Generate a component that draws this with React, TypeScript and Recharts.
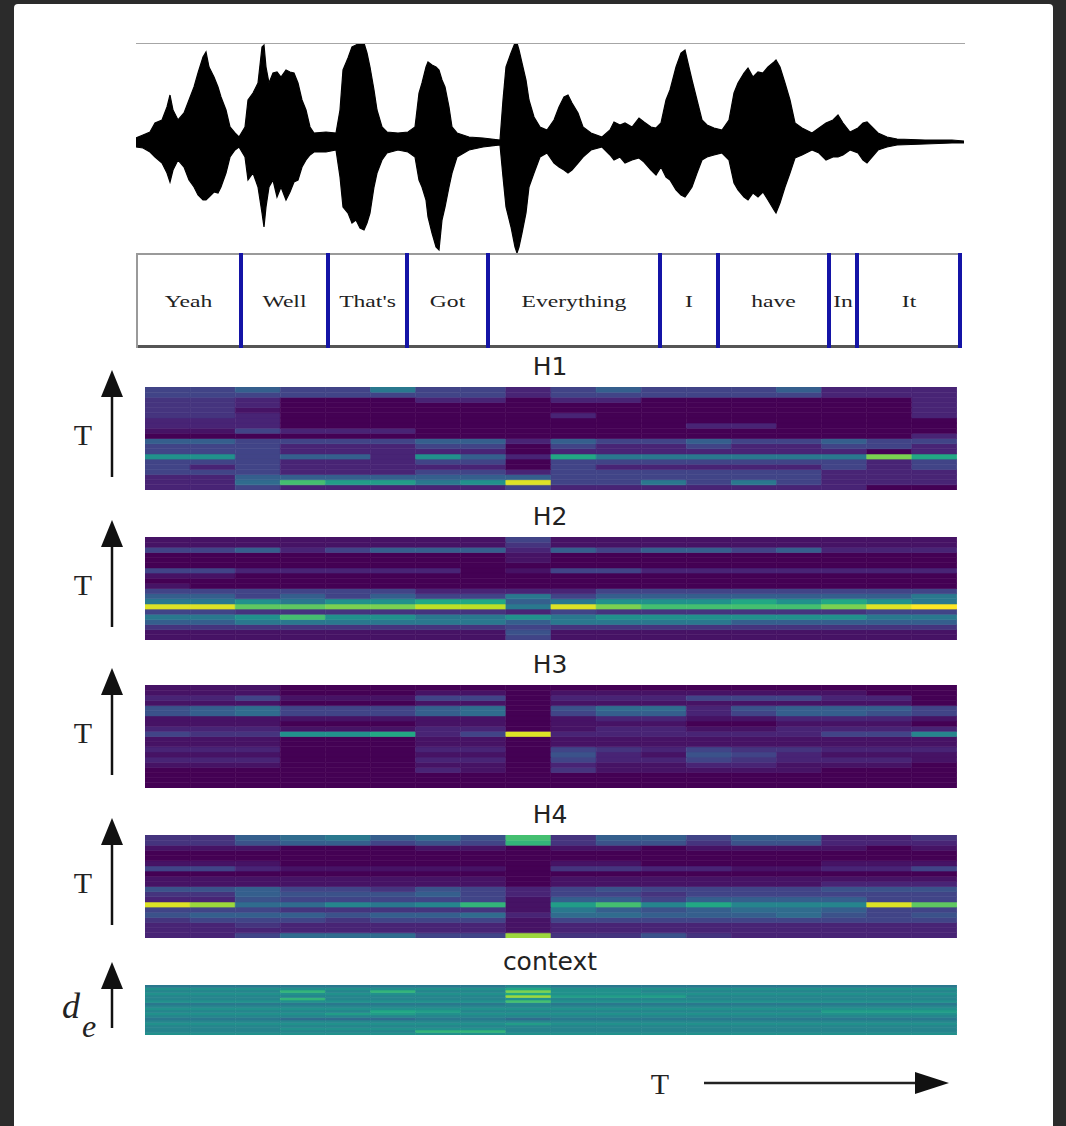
import React from 'react'
import { AreaChart, Area, BarChart, Bar, Cell, XAxis, YAxis, ReferenceLine } from 'recharts'

// waveform envelope: time (px along the trace), upper / lower amplitude
const waveT = [0, 7, 14, 19, 26, 31, 34, 37, 42, 48, 53, 58, 62, 67, 70, 73, 78, 82, 85, 90, 94, 99, 103,
  109, 112, 117, 122, 126, 128, 130, 133, 137, 141, 145, 150, 154, 158, 162, 166, 170, 174, 178, 190, 200,
  204, 207, 212, 216, 220, 224, 228, 231, 234, 238, 241, 246, 251, 262, 272, 279,
  283, 286, 290, 292, 296, 300, 303, 306, 309, 313, 316, 321, 333, 347, 364,
  367, 370, 375, 379, 381, 383, 386, 390, 393, 398, 404, 411, 418, 423, 428, 432, 436, 442, 447, 455, 466,
  474, 478, 484, 489, 496, 503, 508, 515, 520, 525,
  530, 534, 540, 545, 549, 552, 556, 561, 566, 571, 578, 586, 593,
  598, 602, 608, 612, 617, 622, 627, 632, 638, 640, 644, 649, 654, 659, 666, 676, 683,
  690, 697, 702, 707, 714, 722, 727, 731, 736, 742, 751, 761, 789, 816, 828]
const waveHi = [4, 7, 10, 19, 22, 35, 47, 32, 22, 29, 42, 55, 69, 85, 90, 75, 65, 55, 45, 32, 15, 9, 5,
  15, 42, 49, 59, 95, 97, 75, 59, 69, 70, 65, 72, 70, 69, 59, 42, 32, 15, 9, 10, 9,
  32, 72, 84, 95, 97, 99, 99, 89, 75, 52, 32, 15, 10, 9, 10, 15,
  49, 59, 75, 80, 77, 75, 72, 62, 55, 35, 15, 9, 5, 4, 2,
  42, 75, 89, 99, 99, 92, 79, 62, 42, 25, 15, 12, 22, 35, 45, 47, 39, 29, 15, 9, 5,
  12, 20, 17, 19, 15, 24, 20, 15, 14, 19,
  42, 52, 75, 89, 92, 79, 62, 42, 22, 17, 14, 12, 22,
  49, 59, 69, 74, 65, 70, 69, 75, 80, 82, 75, 59, 42, 19, 14, 9, 14,
  19, 22, 27, 19, 10, 14, 19, 20, 15, 9, 5, 3, 2, 2, 1]
const waveLo = [-5, -6, -10, -15, -21, -31, -40, -28, -18, -25, -38, -45, -53, -58, -58, -55, -50, -51, -45, -31, -15, -8, -5,
  -15, -38, -31, -45, -71, -85, -65, -45, -38, -55, -45, -58, -50, -40, -38, -25, -18, -13, -10, -10, -8,
  -35, -65, -71, -81, -78, -86, -88, -81, -71, -45, -31, -18, -11, -8, -10, -15,
  -38, -45, -58, -75, -91, -105, -108, -78, -65, -45, -31, -15, -8, -5, -3,
  -35, -65, -85, -105, -111, -105, -91, -71, -45, -31, -15, -11, -21, -25, -28, -31, -28, -21, -15, -8, -5,
  -13, -18, -15, -21, -18, -16, -20, -28, -33, -25,
  -35, -38, -48, -53, -55, -51, -45, -31, -18, -15, -13, -11, -18,
  -41, -48, -55, -58, -51, -55, -50, -58, -68, -71, -61, -45, -31, -16, -13, -8, -11,
  -18, -15, -15, -13, -8, -11, -18, -21, -15, -8, -5, -3, -2, -1, -1]

// word segmentation (durations in the same time units)
const words = ['Yeah', 'Well', "That's", 'Got', 'Everything', 'I', 'have', 'In', 'It']
const wordDur = [105, 87, 79, 81, 172, 58, 111, 28, 104]

// attention maps, rows top -> bottom, 18 time steps, values 0..10
const H1 = [
  [2, 2, 3, 2, 2, 4, 2, 2, 1, 2, 3, 2, 2, 2, 3, 1, 1, 1],
  [2, 2, 2, 2, 2, 2, 2, 2, 1, 2, 2, 2, 2, 2, 2, 1, 1, 1],
  [1.5, 1.5, 1, 0, 0, 0, 1, 1, 0, 1, 1, 0, 0, 0, 0, 0, 0, 1],
  [1.5, 1.5, 1, 0, 0, 0, 0, 0, 0, 0, 0, 0, 0, 0, 0, 0, 0, 1],
  [1.5, 1.5, 0.5, 0, 0, 0, 0, 0, 0, 0, 0, 0, 0, 0, 0, 0, 0, 1],
  [1.5, 1.5, 1, 0, 0, 0, 0, 0, 0, 1, 0, 0, 0, 0, 0, 0, 0, 1],
  [1, 1, 1, 0, 0, 0, 0, 0, 0, 0, 0, 0, 0, 0, 0, 0, 0, 0],
  [1, 1, 1, 0, 0, 0, 0, 0, 0, 0, 0, 0, 1, 1, 0, 0, 0, 0],
  [0.5, 0.5, 2, 1, 1, 1, 0, 0, 0, 0, 0, 0, 0, 0, 0, 0, 0, 0],
  [0, 0, 0, 0, 0, 0, 0, 0, 0, 0, 0, 0, 0, 0, 0, 0, 0, 1],
  [3, 3, 2, 2, 2, 2, 3, 3, 1, 3, 2, 2, 3, 2, 2, 3, 2, 2],
  [2, 2, 2, 1, 1, 1, 2, 2, 0, 2, 1, 1, 2, 1, 1, 2, 2, 1],
  [2, 2, 2, 1, 1, 1, 1, 1, 0, 1, 1, 1, 1, 1, 1, 1, 0, 1],
  [5, 5, 2, 3, 3, 1, 5, 3, 1, 6, 4, 4, 4, 4, 4, 4, 8, 6],
  [2, 2, 2, 1, 1, 1, 2, 2, 0, 2, 2, 2, 2, 2, 2, 2, 1, 2],
  [2, 1, 2, 1, 1, 1, 1, 1, 0, 2, 1, 1, 1, 1, 1, 2, 1, 2],
  [2, 2, 2, 1, 1, 1, 2, 2, 1, 2, 2, 2, 2, 2, 2, 1, 1, 1],
  [1, 1, 3, 3, 3, 3, 3, 3, 3, 2, 2, 2, 2, 2, 2, 1, 1, 1],
  [1, 1, 3.5, 7, 5.5, 5.5, 4, 5, 9.5, 2, 2, 4, 2, 4, 2, 1, 1, 1],
  [1, 1, 2, 1, 1, 1, 1, 1, 2, 1, 1, 1, 1, 1, 1, 1, 0, 0],
]

const H2 = [
  [0.5, 0.5, 0.5, 0.5, 0.5, 0.5, 0.5, 0.5, 2, 0.5, 0.5, 0.5, 0.5, 0.5, 0.5, 0.5, 0.5, 0.5],
  [0.5, 0.5, 0.5, 0.5, 0.5, 0.5, 0.5, 0.5, 1.5, 0.5, 0.5, 0.5, 0.5, 0.5, 0.5, 0.5, 0.5, 0.5],
  [2, 2, 3, 1, 2, 3, 3, 3, 1, 3, 2, 3, 3, 2, 3, 1, 1, 1],
  [0, 0, 0, 0, 0, 0, 0, 0, 0.5, 0, 0, 0, 0, 0, 0, 0, 0, 0],
  [0, 0, 0, 0, 0, 0, 0, 0, 0.5, 0, 0, 0, 0, 0, 0, 0, 0, 0],
  [0, 0, 0, 0, 0, 0, 0, 0, 0, 0, 0, 0, 0, 0, 0, 0, 0, 0],
  [2, 2, 1, 1, 1, 1, 1, 0, 0.5, 2, 2, 1, 1, 1, 1, 1, 1, 1],
  [0.5, 0.5, 0, 0, 0, 0, 0, 0, 0, 0, 0, 0, 0, 0, 0, 0, 0, 0],
  [0, 0, 0, 0, 0, 0, 0, 0, 0, 0, 0, 0, 0, 0, 0, 0, 0, 0],
  [0.5, 0, 0, 0, 0, 0, 0, 0, 0, 0, 0, 0, 0, 0, 0, 0, 0, 0],
  [2, 2, 2, 2, 2, 2, 1, 1, 1, 1, 2, 2, 2, 2, 2, 2, 2, 2],
  [3, 3, 2, 3, 2, 3, 2, 2, 4, 2, 3, 3, 3, 3, 3, 3, 3, 4],
  [4, 4, 5, 4, 5, 5, 6, 6, 3, 4, 5, 5, 5, 6, 5, 6, 5, 4],
  [9.5, 9.5, 7.5, 7.5, 8, 8, 9, 9, 4, 9.5, 8, 7, 7, 7, 7, 8, 9.5, 10],
  [2, 2, 1.5, 1.5, 1.5, 1.5, 1.5, 1.5, 1, 2, 1.5, 1.5, 1.5, 1.5, 1.5, 1.5, 2, 2],
  [4, 4, 5, 7, 5, 5, 4, 4, 5, 4, 5, 5, 5, 5, 5, 5, 4, 4],
  [3, 3, 4, 4, 4, 4, 4, 4, 3, 4, 4, 4, 4, 3, 3, 3, 3, 3],
  [1.5, 1.5, 1.5, 1.5, 1.5, 1.5, 1.5, 1.5, 2, 1.5, 1.5, 1.5, 1.5, 1.5, 1.5, 1.5, 1.5, 1.5],
  [0.5, 0.5, 0.5, 0.5, 0.5, 0.5, 0.5, 0.5, 2.5, 0.5, 0.5, 0.5, 0.5, 0.5, 0.5, 0.5, 0.5, 0.5],
  [0.5, 0.5, 0.5, 0.5, 0.5, 0.5, 0.5, 0.5, 2, 0.5, 0.5, 0.5, 0.5, 0.5, 0.5, 0.5, 0.5, 0.5],
]

const H3 = [
  [0.5, 0.5, 0.5, 0, 0, 0, 0, 0, 0, 0, 0, 0, 0, 0, 0, 0, 0, 0],
  [0.5, 0.5, 0.5, 0, 0, 0, 0.5, 0.5, 0, 0.5, 0.5, 0.5, 0.5, 0.5, 0.5, 0.5, 0, 0],
  [1, 1, 2, 0.5, 0.5, 0.5, 2, 2, 0, 1, 1, 1, 2, 2, 2, 1, 1, 0],
  [0.5, 0.5, 0.5, 0, 0, 0, 0.5, 0.5, 0, 0.5, 0.5, 0.5, 0.5, 0.5, 0.5, 0.5, 0.5, 0],
  [2.5, 3, 3.5, 2, 2, 2, 3, 3.5, 0, 2.5, 3.5, 3.5, 1, 2.5, 3, 3, 3, 2],
  [2.5, 3, 3.5, 2, 2, 2, 3, 3.5, 0, 2, 3, 3, 1, 2, 3, 3, 2.5, 2],
  [0.5, 0.5, 0.5, 0.5, 0.5, 0.5, 0.5, 0.5, 0, 0.5, 1, 1, 0.5, 0.5, 1, 1, 1, 0.5],
  [0.5, 0.5, 0.5, 0, 0, 0, 0.5, 0.5, 0, 0.5, 0.5, 0.5, 0, 0, 0.5, 0.5, 0.5, 0],
  [1, 1, 1, 0.5, 0.5, 0.5, 1, 1, 0, 0.5, 1, 1, 0.5, 0.5, 1, 1, 1, 1],
  [2, 1.5, 1.5, 5, 5, 6, 1, 2, 9.5, 1, 1, 1, 1, 1, 1, 2, 2, 4.5],
  [0.5, 0.5, 0.5, 0, 0, 0, 0.5, 0.5, 0, 0.5, 0.5, 0.5, 0.5, 0.5, 0.5, 0.5, 0.5, 0.5],
  [0.5, 0.5, 0.5, 0, 0, 0, 0.5, 0.5, 0, 0.5, 0.5, 0.5, 0.5, 0.5, 0.5, 0.5, 0.5, 0.5],
  [1, 1, 1, 0, 0, 0, 1, 1, 0, 2, 1.5, 1, 2, 1.5, 1.5, 1, 1, 1],
  [0.5, 0.5, 0.5, 0, 0, 0, 0.5, 0.5, 0, 2.5, 1, 0.5, 2.5, 2, 1, 0.5, 0.5, 0.5],
  [1, 1, 1, 0, 0, 0, 1, 1, 0, 2, 1, 1, 2, 1.5, 1, 1, 1, 0.5],
  [0.5, 0.5, 0.5, 0, 0, 0, 0.5, 0.5, 0, 1, 0.5, 0.5, 1, 1, 0.5, 0.5, 0.5, 0],
  [0, 0, 0, 0, 0, 0, 1, 0.5, 0, 1.5, 0.5, 0.5, 0.5, 0.5, 0.5, 0, 0, 0],
  [0, 0, 0, 0, 0, 0, 0, 0, 0, 0, 0, 0, 0, 0, 0, 0, 0, 0],
  [0, 0, 0, 0, 0, 0, 0, 0, 0, 0, 0, 0, 0, 0, 0, 0, 0, 0],
  [0, 0, 0, 0, 0, 0, 0, 0, 0, 0, 0, 0, 0, 0, 0, 0, 0, 0],
]

const H4 = [
  [1.5, 1.5, 3, 3.5, 4, 3, 3.5, 2.5, 7, 1.5, 3, 3, 2, 3, 3, 1, 1, 1.5],
  [1.5, 1.5, 2.5, 3, 3, 2, 2.5, 2, 6.5, 1.5, 2.5, 2.5, 1.5, 2.5, 2.5, 1, 1, 1],
  [0.5, 0.5, 0.5, 0, 0, 0, 0.5, 0.5, 0, 0.5, 0.5, 0, 0.5, 0.5, 0.5, 0.5, 0, 0.5],
  [0, 0, 0, 0, 0, 0, 0, 0, 0, 0, 0, 0, 0, 0, 0, 0, 0, 0],
  [0, 0, 0, 0, 0, 0, 0, 0, 0, 0, 0, 0, 0, 0, 0, 0, 0, 0],
  [0.5, 0.5, 0.5, 0, 0, 0, 0, 0, 0, 0.5, 0.5, 0, 0, 0, 0, 0.5, 0.5, 0.5],
  [2, 2, 1, 0.5, 0.5, 0.5, 0.5, 0.5, 0, 1.5, 1.5, 1, 1, 0.5, 0.5, 1, 1, 2],
  [0, 0, 0, 0, 0, 0, 0, 0, 0, 0, 0, 0, 0, 0, 0, 0, 0, 0],
  [0.5, 0.5, 0.5, 0.5, 0.5, 0.5, 0.5, 0.5, 0, 0.5, 0.5, 0.5, 0.5, 0.5, 0.5, 0.5, 0.5, 0.5],
  [0.5, 0.5, 0.5, 0.5, 0.5, 0.5, 0.5, 0.5, 0, 0.5, 0.5, 0.5, 0.5, 0.5, 0.5, 1, 1, 1],
  [2.5, 2.5, 3, 2, 2, 1.5, 2.5, 2, 1, 2, 2.5, 2, 2, 2, 2, 2.5, 2.5, 2.5],
  [1.5, 1.5, 3, 2.5, 2.5, 2.5, 3, 2, 1, 2, 2, 1.5, 2, 2, 2, 2, 2, 2],
  [1, 1, 2.5, 2, 2, 2, 2, 2, 0.5, 3, 3, 2, 3, 3, 3, 3, 2, 2],
  [9.5, 8.5, 3.5, 3.5, 4.5, 4, 4.5, 6.5, 0.5, 5.5, 7, 4.5, 6, 4.5, 4.5, 4.5, 9.5, 7.5],
  [2, 2, 2, 1.5, 1.5, 1.5, 1.5, 1.5, 0.5, 4, 3, 2.5, 3, 3.5, 3.5, 3, 2, 2],
  [2.5, 3, 3, 3, 2.5, 3, 3, 3.5, 1, 3.5, 3.5, 3, 3, 3, 3.5, 2.5, 2, 2.5],
  [1.5, 2, 2, 2, 1.5, 2, 2, 2, 0.5, 2, 2, 2, 2, 2, 2, 2, 2, 2],
  [1, 1, 1.5, 1, 1, 1, 1, 1, 0.5, 1, 1, 1, 1, 1, 1, 1, 1, 1],
  [1, 1, 1, 1, 1, 1, 1, 1, 0.5, 1, 1, 1, 1, 1, 1, 1, 1, 1],
  [1, 1, 2, 3.5, 3.5, 3.5, 2, 2, 8.5, 1.5, 1.5, 2.5, 1.5, 1, 1, 1, 1, 1],
]

const CONTEXT = [
  [4, 4, 4, 4, 4, 4, 4, 4, 4.5, 4, 4, 4, 4, 4, 4, 4, 4, 4],
  [5, 5, 5, 5, 5, 5, 5, 5, 6, 5, 5, 5, 5, 5, 5, 5, 5, 5],
  [4.5, 4.5, 4.5, 6.5, 4.5, 6.5, 4.5, 4.5, 8, 5, 5, 4.5, 4.5, 4.5, 4.5, 4.5, 4.5, 4.5],
  [5, 5, 5, 5, 5, 5, 5, 5, 6, 5, 5, 5, 5, 5, 5, 5, 5, 5],
  [4.5, 4.5, 4.5, 4.5, 4.5, 4.5, 4.5, 4.5, 8.5, 5.5, 5.5, 5.5, 4.5, 4.5, 4.5, 4.5, 4.5, 4.5],
  [4.5, 4.5, 4.5, 6.5, 4.5, 4.5, 4.5, 4.5, 5, 4.5, 4.5, 4.5, 4.5, 4.5, 4.5, 4.5, 4.5, 4.5],
  [5, 5, 5, 5, 5, 5, 5, 5, 7, 5, 5, 5, 5, 5, 5, 5, 5, 5],
  [4, 4, 4, 4, 4, 4, 4, 4, 4.5, 4, 4, 4, 4, 4, 4, 4, 4, 4],
  [4.5, 4.5, 4.5, 4.5, 4.5, 4.5, 4.5, 4.5, 4.5, 4.5, 4.5, 4.5, 4.5, 4.5, 4.5, 4.5, 4.5, 4.5],
  [5, 5, 5, 5, 5, 5, 5, 5, 5, 5, 5, 5, 5, 5, 5, 5, 5, 5],
  [4.5, 4.5, 4.5, 4.5, 4.5, 6, 5.5, 4.5, 4.5, 4.5, 4.5, 4.5, 4.5, 4.5, 4.5, 5.5, 5.5, 5.5],
  [5, 5, 5, 5, 5.5, 5.5, 5, 5, 5, 5, 5, 5, 5, 5, 5, 5, 5, 5],
  [4.5, 4.5, 4.5, 4.5, 4.5, 4.5, 4.5, 4.5, 4.5, 4.5, 4.5, 4.5, 4.5, 4.5, 4.5, 4.5, 4.5, 4.5],
  [4, 4, 4, 3.5, 3.5, 3.5, 4, 4, 3.5, 4, 4, 4, 4, 4, 4, 4, 4, 4],
  [4.5, 4.5, 4.5, 4.5, 4.5, 4.5, 4.5, 4.5, 4.5, 4.5, 4.5, 4.5, 4.5, 4.5, 4.5, 4.5, 4.5, 4.5],
  [5, 5, 5, 5, 5, 5, 5, 5, 5.5, 5, 5, 5, 5, 5, 5, 5, 5, 5],
  [4.5, 4.5, 4.5, 4.5, 4.5, 4.5, 4.5, 4.5, 4.5, 4.5, 4.5, 4.5, 4.5, 4.5, 4.5, 4.5, 4.5, 4.5],
  [4.5, 4.5, 4.5, 5, 5, 5, 5, 5, 4.5, 4.5, 4.5, 4.5, 4.5, 4.5, 4.5, 4.5, 4.5, 4.5],
  [4.5, 4.5, 4.5, 4.5, 4.5, 4.5, 6.5, 6.5, 4.5, 4.5, 4.5, 4.5, 4.5, 4.5, 4.5, 4.5, 4.5, 4.5],
  [5, 5, 5, 5, 5, 5, 5, 5, 5, 5, 5, 5, 5, 5, 5, 5, 5, 5],
]

const VIRIDIS = ['#440154', '#482475', '#414487', '#355f8d', '#2a788e', '#21918c', '#22a884', '#44bf70', '#7ad151', '#bddf26', '#fde725']

function viridis(t: number) {
  const v = Math.max(0, Math.min(1, t)) * 10
  const i = Math.min(9, Math.floor(v))
  const f = v - i
  const a = VIRIDIS[i], b = VIRIDIS[i + 1]
  const ch = (s: string, k: number) => parseInt(s.slice(1 + 2 * k, 3 + 2 * k), 16)
  const mix = [0, 1, 2].map(k => Math.round(ch(a, k) + (ch(b, k) - ch(a, k)) * f))
  return `rgb(${mix[0]},${mix[1]},${mix[2]})`
}

const noMargin = { top: 0, right: 0, bottom: 0, left: 0 }

function Heatmap({ grid, width, height }: { grid: number[][], width: number, height: number }) {
  const nRows = grid.length
  const nCols = grid[0].length
  const data = Array.from({ length: nCols }, (_, c) => {
    const row: any = { col: c }
    grid.forEach((_r, r) => { row['r' + r] = 1 })
    return row
  })
  // stack from bottom row upwards
  const order = grid.map((_r, r) => r).reverse()
  return (
    <BarChart width={width} height={height} data={data} margin={noMargin} barCategoryGap={0} barGap={0}>
      <XAxis dataKey="col" hide />
      <YAxis hide domain={[0, nRows]} allowDataOverflow />
      {order.map(r => (
        <Bar key={r} dataKey={'r' + r} stackId="h" isAnimationActive={false}>
          {grid[r].map((v, c) => (
            <Cell key={c} fill={viridis(v / 10)} stroke={viridis(v / 10)} strokeWidth={0.6} />
          ))}
        </Bar>
      ))}
    </BarChart>
  )
}

const BLUE = '#1414a6'

function wordShape(i: number) {
  return (props: any) => {
    const { x, y, width, height } = props
    const cx = x + width / 2
    const cy = y + height / 2
    const last = i === words.length - 1
    return (
      <g>
        <rect x={x} y={y} width={width} height={height} fill="#fff" />
        <line x1={x} x2={x + width} y1={y + 1} y2={y + 1} stroke="#9a9a9a" strokeWidth={2} />
        <line x1={x} x2={x + width} y1={y + height - 1.5} y2={y + height - 1.5} stroke="#555" strokeWidth={3} />
        {i === 0 && <line x1={x + 1} x2={x + 1} y1={y} y2={y + height} stroke="#9a9a9a" strokeWidth={2} />}
        {i > 0 && <rect x={x - 2} y={y} width={4} height={height} fill={BLUE} />}
        {last && <rect x={x + width - 3} y={y} width={4} height={height} fill={BLUE} />}
        <text transform={`translate(${cx},${cy}) scale(1.35,1)`} textAnchor="middle" dominantBaseline="central"
          fontFamily="'Liberation Serif', serif" fontSize={17.5} fill="#222">{words[i]}</text>
      </g>
    )
  }
}

const heatmaps = [
  { title: 'H1', grid: H1, top: 387, height: 103 },
  { title: 'H2', grid: H2, top: 537, height: 103 },
  { title: 'H3', grid: H3, top: 685, height: 103 },
  { title: 'H4', grid: H4, top: 835, height: 103 },
]

function UpArrow({ x, tip, bottom }: { x: number, tip: number, bottom: number }) {
  return (
    <g>
      <line x1={x} x2={x} y1={tip + 20} y2={bottom} stroke="#111" strokeWidth={2.5} />
      <polygon points={`${x - 11},${tip + 27} ${x},${tip} ${x + 11},${tip + 27}`} fill="#111" />
    </g>
  )
}

export default function App() {
  const waveData = waveT.map((t, i) => ({ t, band: [waveLo[i], waveHi[i]] }))
  const wordRow: any = { name: 'words' }
  words.forEach((w, i) => { wordRow[w] = wordDur[i] })

  return (
    <div style={{ position: 'absolute', left: 0, top: 0, width: 1066, height: 1126, background: '#2b2b2b', overflow: 'hidden' }}>
      <div style={{ position: 'absolute', left: 14, top: 4, width: 1039, height: 1140, background: '#fff', borderRadius: 4 }} />

      <div style={{ position: 'absolute', left: 136, top: 43 }}>
        <AreaChart width={829} height={210} data={waveData} margin={noMargin}>
          <XAxis dataKey="t" type="number" domain={[0, 829]} hide />
          <YAxis type="number" domain={[-111, 99]} hide allowDataOverflow />
          <ReferenceLine y={99} stroke="#a6a6a6" strokeWidth={2} />
          <Area type="linear" dataKey="band" stroke="#000" strokeWidth={1.2} fill="#000" fillOpacity={1} isAnimationActive={false} />
        </AreaChart>
      </div>

      <div style={{ position: 'absolute', left: 136, top: 253 }}>
        <BarChart width={829} height={95} data={[wordRow]} layout="vertical" margin={noMargin} barCategoryGap={0}>
          <XAxis type="number" domain={[0, 829]} hide allowDataOverflow />
          <YAxis type="category" dataKey="name" hide />
          {words.map((w, i) => (
            <Bar key={w} dataKey={w} stackId="w" isAnimationActive={false} shape={wordShape(i)} />
          ))}
        </BarChart>
      </div>

      {heatmaps.map(h => (
        <div key={h.title} style={{ position: 'absolute', left: 145, top: h.top }}>
          <Heatmap grid={h.grid} width={812} height={h.height} />
        </div>
      ))}
      <div style={{ position: 'absolute', left: 145, top: 985 }}>
        <Heatmap grid={CONTEXT} width={812} height={50} />
      </div>

      <svg width={1066} height={1126} style={{ position: 'absolute', left: 0, top: 0, pointerEvents: 'none' }}>
        {heatmaps.map(h => (
          <g key={h.title}>
            <text x={550} y={h.top - 12} textAnchor="middle" fontFamily="'DejaVu Sans', sans-serif" fontSize={25} fill="#222">{h.title}</text>
            <text x={83} y={h.top + 58} textAnchor="middle" fontFamily="'Liberation Serif', serif" fontSize={30} fill="#222">T</text>
            <UpArrow x={112} tip={h.top - 17} bottom={h.top + 90} />
          </g>
        ))}
        <text x={550} y={970} textAnchor="middle" fontFamily="'DejaVu Sans', sans-serif" fontSize={25} fill="#222">context</text>
        <UpArrow x={112} tip={962} bottom={1028} />
        <text x={62} y={1018} fontFamily="'Liberation Serif', serif" fontStyle="italic" fontSize={36} fill="#222">d</text>
        <text x={82} y={1037} fontFamily="'Liberation Serif', serif" fontStyle="italic" fontSize={32} fill="#222">e</text>

        <text x={660} y={1094} textAnchor="middle" fontFamily="'Liberation Serif', serif" fontSize={30} fill="#222">T</text>
        <line x1={704} x2={920} y1={1083} y2={1083} stroke="#222" strokeWidth={2.5} />
        <polygon points="915,1072 949,1083 915,1094" fill="#111" />
      </svg>
    </div>
  )
}
